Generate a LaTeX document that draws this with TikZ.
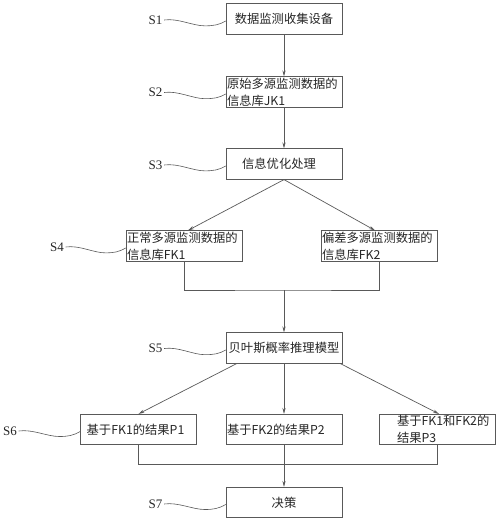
\documentclass[tikz,border=0pt]{standalone}
\usepackage{fontspec}
\setmainfont{Liberation Serif}
\newfontfamily\cjk{Noto Sans CJK SC}
\usetikzlibrary{arrows.meta,calc}
\newcommand\leadline[2]{\draw[leadst] (#1.east) .. controls +(14,-2) and +(-12,0) .. ($(#1.east)!0.66!(#2.west)+(0,6.5)$) .. controls +(9,0) and +(-7,4) .. ($(#2.west)+(0,2)$);}
\begin{document}
\begin{tikzpicture}[x=1pt,y=-1pt,
  box/.style={draw=black!65, line width=0.7pt, minimum width=116pt, minimum height=30.5pt,
    inner xsep=1pt, inner ysep=0pt, text width=114pt, font=\cjk\fontsize{12.3pt}{17pt}\selectfont, text=black!85},
  lab/.style={font=\fontsize{13pt}{15pt}\selectfont, inner sep=1.5pt, text=black!85},
  conn/.style={draw=black!65, line width=0.7pt},
  arr/.style={conn, -{Stealth[length=6pt,width=3.2pt]}},
  leadst/.style={draw=black!65, line width=0.6pt}]
\useasboundingbox (0,0) rectangle (500,522);
% boxes
\node[box, align=center] (b1) at (284,19) {数据监测收集设备};
\node[box, align=left] (b2) at (284,92) {原始多源监测数据的\\信息库JK1};
\node[box, align=center] (b3) at (284,164) {信息优化处理\hspace*{10pt}};
\node[box, align=left] (b4l) at (184,246) {正常多源监测数据的\\信息库FK1};
\node[box, align=left] (b4r) at (379,246) {偏差多源监测数据的\\信息库FK2};
\node[box, align=center] (b5) at (284,348) {贝叶斯概率推理模型};
\node[box, align=center] (b6l) at (138.5,429.5) {基于FK1的结果P1\hspace*{6pt}};
\node[box, align=left] (b6m) at (284,429.5) {基于FK2的结果P2};
\node[box, align=left] (b6r) at (437,429.5) {\hspace*{17pt}基于FK1和FK2的\\\hspace*{17pt}结果P3};
\node[box, align=center] (b7) at (284,502.5) {决策};
% step labels
\node[lab] (l1) at (155.5,20) {S1};
\node[lab] (l2) at (155.5,92.5) {S2};
\node[lab] (l3) at (155.5,165) {S3};
\node[lab] (l4) at (57,247) {S4};
\node[lab] (l5) at (155.5,348.5) {S5};
\node[lab] (l6) at (10,431) {S6};
\node[lab] (l7) at (155.5,504) {S7};
% leaders
\leadline{l1}{b1}
\leadline{l2}{b2}
\leadline{l3}{b3}
\leadline{l4}{b4l}
\leadline{l5}{b5}
\leadline{l6}{b6l}
\leadline{l7}{b7}
% connectors
\draw[arr] (b1.south) -- (b2.north);
\draw[arr] (b2.south) -- (b3.north);
\draw[arr] (b3.south) -- ($(b4l.north)+(4,0)$);
\draw[arr] (b3.south) -- ($(b4r.north)+(-4,0)$);
\coordinate (j4) at (284,290);
\draw[conn] (b4l.south) |- (j4) -| (b4r.south);
\draw[arr] (j4) -- (b5.north);
\draw[arr] ($(b5.south west)+(11,0)$) -- (b6l.north);
\draw[arr] (b5.south) -- (b6m.north);
\draw[arr] ($(b5.south east)+(-2,0)$) -- ($(b6r.north)+(2,0)$);
\coordinate (j6) at (284,464.5);
\draw[conn] (b6l.south) |- (j6) -| (b6r.south);
\draw[arr] (b6m.south) -- (b7.north);
\end{tikzpicture}
\end{document}
